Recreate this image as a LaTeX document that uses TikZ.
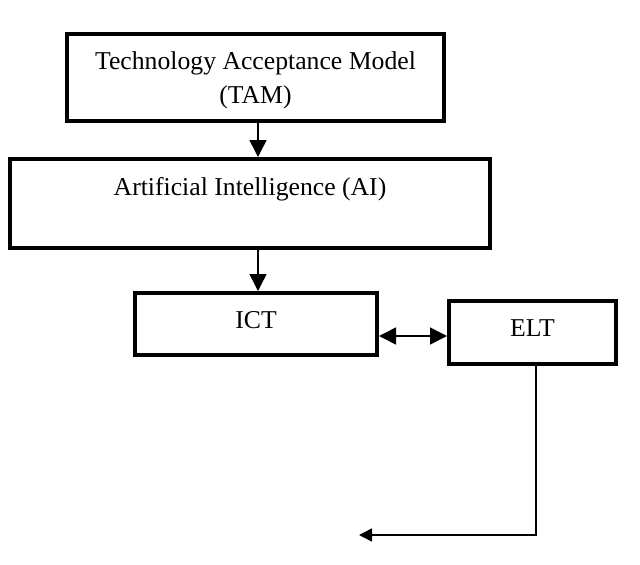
\documentclass[tikz,border=0pt]{standalone}
\usepackage{fontspec}
\setmainfont{Liberation Serif}
\usetikzlibrary{arrows.meta}

\begin{document}
\begin{tikzpicture}
  [x=1pt,y=-1pt,every node/.style={draw,line width=4pt,rectangle,align=center,
   font=\fontsize{25.7}{34}\selectfont},
   flow/.style={line width=1.5pt,-{Triangle[length=17pt,width=17pt]}}]
  \useasboundingbox (0,0) rectangle (640,565);
  \node (tam) at (255.5,77.5) [minimum width=377pt,minimum height=87pt,text depth=0pt] {Technology Acceptance Model\\(TAM)};
  \node (ai) at (250,203.5) [minimum width=480pt,minimum height=89pt] {Artificial Intelligence (AI)\\\mbox{}};
  \node (ict) at (256,324) [minimum width=242pt,minimum height=62pt,text depth=8pt] {ICT};
  \node (elt) at (532.5,332.5) [minimum width=167pt,minimum height=63pt,text depth=8pt] {ELT};
  \coordinate (end) at (359,535);

  \foreach \from/\to/\dx in {tam/ai/8,ai/ict/2}
    \draw[flow] ([xshift=\dx pt]\to.north |- \from.south) -- ([xshift=\dx pt]\to.north);
  \draw[flow,{Triangle[length=17pt,width=17pt]}-{Triangle[length=17pt,width=17pt]}]
    ([yshift=-12pt]ict.east) -- ([yshift=-12pt]ict.east -| elt.west);
  \draw[line width=1.5pt,-{Triangle[length=13pt,width=13pt]}] ([xshift=3.5pt]elt.south) |- (end);

\end{tikzpicture}
\end{document}
